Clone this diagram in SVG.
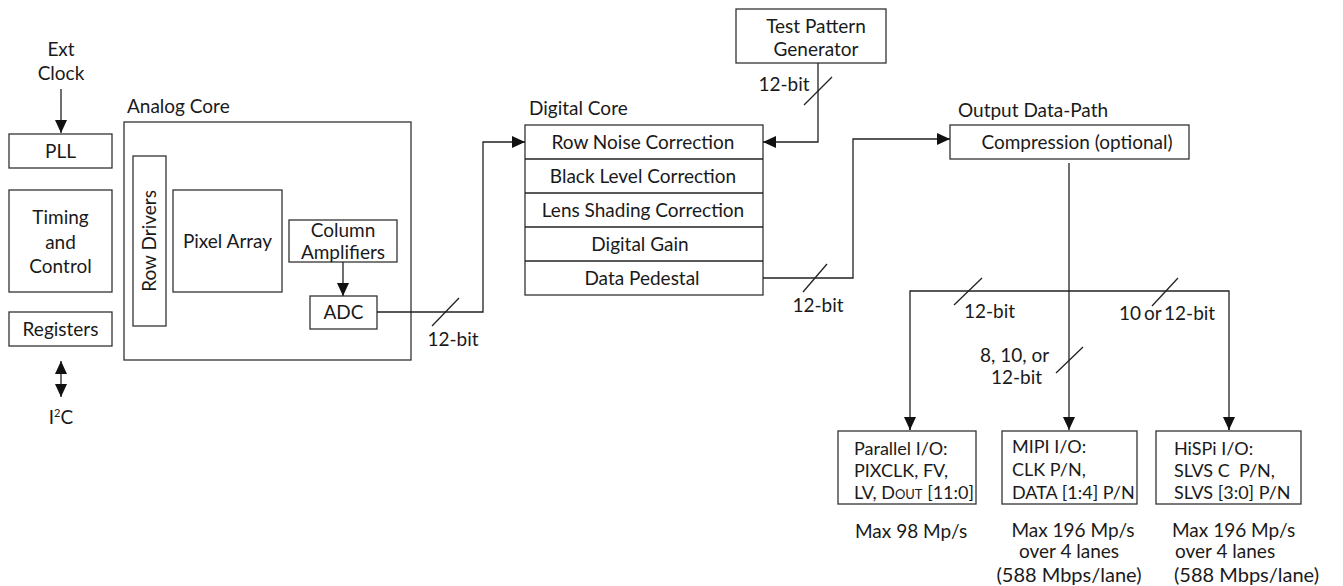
<svg xmlns="http://www.w3.org/2000/svg" width="1343" height="586" viewBox="0 0 1343 586">
<style>
text{font-family:Lato,"Open Sans","Liberation Sans",sans-serif;font-size:19px;fill:#1a1a1a}
.c{text-anchor:middle}
.box{fill:#fff;stroke:#333;stroke-width:1.3}
.ln{fill:none;stroke:#222;stroke-width:1.3}
.io{font-size:18px}
.big{font-size:20px}
</style>
<defs>
<marker id="ah" markerUnits="userSpaceOnUse" markerWidth="14" markerHeight="12" refX="13" refY="6" orient="auto">
<path d="M0,0 L13,6 L0,12 Z" fill="#111"/>
</marker>
<marker id="ahs" markerUnits="userSpaceOnUse" markerWidth="14" markerHeight="12" refX="13" refY="6" orient="auto-start-reverse">
<path d="M0,0 L13,6 L0,12 Z" fill="#111"/>
</marker>
</defs>

<g id="ext-clock">
<text class="c" x="61" y="56">Ext</text>
<text class="c" x="61" y="80">Clock</text>
</g>
<g id="pll"><rect class="box" x="9" y="134" width="103" height="34"/><text class="c" x="60.5" y="158">PLL</text></g>
<g id="timing"><rect class="box" x="9" y="190" width="103" height="102"/>
<text class="c" x="60.5" y="224">Timing</text><text class="c" x="60.5" y="249">and</text><text class="c" x="60.5" y="273">Control</text></g>
<g id="registers"><rect class="box" x="9" y="312" width="103" height="34"/><text class="c" x="60.5" y="336">Registers</text></g>
<g id="i2c"><text class="c" x="61" y="424">I<tspan font-size="11" dy="-7">2</tspan><tspan dy="7">C</tspan></text></g>

<g id="analog-core">
<text x="127" y="113">Analog Core</text>
<rect class="box" x="124" y="122" width="287" height="238"/>
</g>
<g id="row-drivers"><rect class="box" x="133" y="156" width="33" height="170"/>
<text class="c" transform="translate(156,241) rotate(-90)">Row Drivers</text></g>
<g id="pixel-array"><rect class="box" x="173" y="190" width="109" height="102"/><text class="c" x="227.5" y="248">Pixel Array</text></g>
<g id="column-amps"><rect class="box" x="289" y="220" width="108" height="42"/>
<text class="c" x="343" y="237">Column</text><text class="c" x="343" y="259">Amplifiers</text></g>
<g id="adc"><rect class="box" x="310" y="296" width="67" height="33"/><text class="c" x="343.5" y="319">ADC</text></g>

<g id="digital-core">
<text x="529" y="115">Digital Core</text>
<rect class="box" x="525" y="125" width="238" height="170"/>
<line class="ln" x1="525" y1="159" x2="763" y2="159"/>
<line class="ln" x1="525" y1="193" x2="763" y2="193"/>
<line class="ln" x1="525" y1="227" x2="763" y2="227"/>
<line class="ln" x1="525" y1="261" x2="763" y2="261"/>
<text class="c" x="643" y="149">Row Noise Correction</text>
<text class="c" x="643" y="183">Black Level Correction</text>
<text class="c" x="643" y="217">Lens Shading Correction</text>
<text class="c" x="640" y="251">Digital Gain</text>
<text class="c" x="642" y="285">Data Pedestal</text>
</g>

<g id="test-pattern"><rect class="box" x="736" y="9" width="150" height="54"/>
<text class="c" x="816" y="33">Test Pattern</text><text class="c" x="816" y="56">Generator</text></g>

<g id="output-datapath">
<text x="958" y="117">Output Data-Path</text>
<rect class="box" x="950" y="125" width="239" height="34"/>
<text class="c" x="1077" y="149">Compression (optional)</text>
</g>

<g id="parallel-io"><rect class="box" x="838" y="431" width="138" height="73"/>
<text class="io" x="854" y="455">Parallel I/O:</text><text class="io" x="854" y="477">PIXCLK, FV,</text>
<text class="io" x="854" y="499">LV, D<tspan font-size="13">OUT</tspan> [11:0]</text>
<text x="855" y="538">Max 98 Mp/s</text></g>
<g id="mipi-io"><rect class="box" x="1002" y="431" width="135" height="73"/>
<text class="io" x="1012" y="453">MIPI I/O:</text><text class="io" x="1012" y="476">CLK P/N,</text><text class="io" x="1012" y="499">DATA [1:4] P/N</text>
<text class="c" x="1073" y="537">Max 196 Mp/s</text><text class="c" x="1069" y="558">over 4 lanes</text>
<text class="c big" x="1069" y="582">(588 Mbps/lane)</text></g>
<g id="hispi-io"><rect class="box" x="1156" y="431" width="145" height="73"/>
<text class="io" x="1174" y="455">HiSPi I/O:</text><text class="io" x="1174" y="477" xml:space="preserve">SLVS C  P/N,</text><text class="io" x="1174" y="499">SLVS [3:0] P/N</text>
<text x="1172" y="537">Max 196 Mp/s</text><text x="1175" y="558">over 4 lanes</text>
<text class="big" x="1174" y="582">(588 Mbps/lane)</text></g>

<g id="connectors">
<line class="ln" x1="61" y1="89" x2="61" y2="133" marker-end="url(#ah)"/>
<line class="ln" x1="61" y1="361" x2="61" y2="397" marker-start="url(#ahs)" marker-end="url(#ah)"/>
<line class="ln" x1="343" y1="262" x2="343" y2="296" marker-end="url(#ah)"/>
<polyline class="ln" points="377,312 483,312 483,142 525,142" marker-end="url(#ah)"/>
<line class="ln" x1="432" y1="326" x2="459" y2="298"/>
<text class="c" x="453" y="346">12-bit</text>
<polyline class="ln" points="818,63 818,142 763,142" marker-end="url(#ah)"/>
<line class="ln" x1="804" y1="105" x2="832" y2="77"/>
<text class="c" x="784" y="91">12-bit</text>
<polyline class="ln" points="763,278 853,278 853,139 950,139" marker-end="url(#ah)"/>
<line class="ln" x1="803" y1="292" x2="827" y2="264"/>
<text class="c" x="818" y="312">12-bit</text>
<line class="ln" x1="1069" y1="163" x2="1069" y2="430" marker-end="url(#ah)"/>
<polyline class="ln" points="910,430 910,291 1229,291 1229,430" />
<line class="ln" x1="910" y1="420" x2="910" y2="430" marker-end="url(#ah)"/>
<line class="ln" x1="1229" y1="420" x2="1229" y2="430" marker-end="url(#ah)"/>
<line class="ln" x1="954" y1="305" x2="982" y2="278"/>
<text x="964" y="318">12-bit</text>
<line class="ln" x1="1152" y1="306" x2="1178" y2="278"/>
<text x="1119" y="320" word-spacing="-2">10 or 12-bit</text>
<line class="ln" x1="1056" y1="373" x2="1083" y2="347"/>
<text x="980" y="362">8, 10, or</text>
<text x="991" y="384">12-bit</text>
</g>
</svg>
